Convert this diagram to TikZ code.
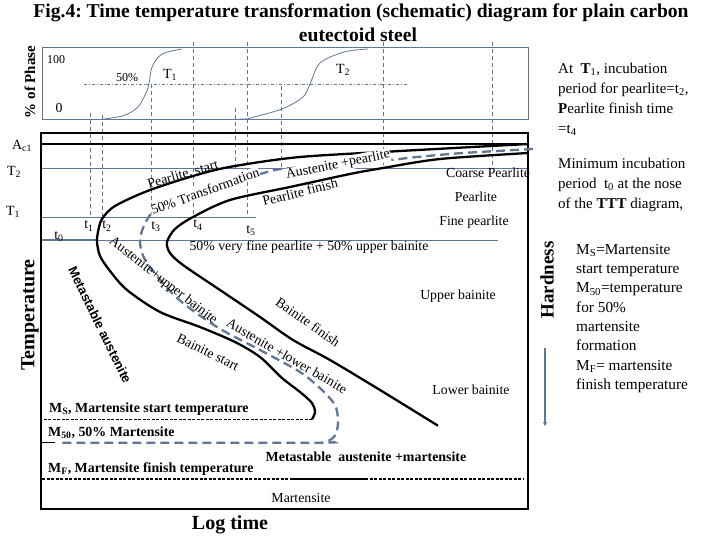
\documentclass[tikz,border=0pt]{standalone}
\usepackage{fontspec}
\setmainfont{Liberation Serif}
\newfontfamily\arialfont{Liberation Sans}
\usetikzlibrary{arrows.meta}
\frenchspacing
\definecolor{slate}{RGB}{96,118,148}
\newcommand{\lowidx}[1]{\textsubscript{#1}}
\tikzset{
  phaseline/.style={draw=slate, line width=0.9pt},
  guide/.style={draw=slate, line width=0.8pt, dash pattern=on 4pt off 3pt},
  ccurve/.style={draw=black, line width=2.3pt},
  halfcurve/.style={draw=slate, line width=2.3pt, dash pattern=on 9pt off 5pt},
  lbl/.style={font=\fontsize{13.8}{16}\selectfont, inner sep=0.5pt},
  axlbl/.style={font=\bfseries\fontsize{20}{24}\selectfont, inner sep=0pt},
  mlbl/.style={font=\bfseries\fontsize{13.9}{16}\selectfont, inner sep=0pt, anchor=west},
  note/.style={font=\fontsize{15}{20}\selectfont, align=left, anchor=north west, inner sep=0pt},
}
\begin{document}
\begin{tikzpicture}[x=1pt, y=-1pt]
  \useasboundingbox (0,0) rectangle (720,540);
  \node[font=\bfseries\fontsize{19.6}{23}\selectfont] (title1) at (361,13)
    {Fig.4: Time temperature transformation (schematic) diagram for plain carbon};
  \node[font=\bfseries\fontsize{19.6}{23}\selectfont] (title2) at (358,35) {eutectoid steel};

  \draw[phaseline] (42,47) rectangle (528,119.3);
  \node[axlbl, font=\bfseries\fontsize{15}{18}\selectfont, rotate=90] (phase) at (30,82) {\% of Phase};
  \node[lbl, font=\fontsize{12}{14}\selectfont] (p100) at (56,60) {100};
  \node[lbl, font=\fontsize{12}{14}\selectfont] (p50) at (127,78) {50\%};
  \node[lbl] (p0) at (59,108) {0};
  \node[lbl, font=\fontsize{14}{16}\selectfont] (pT1) at (170,75) {T\lowidx{1}};
  \node[lbl, font=\fontsize{14}{16}\selectfont] (pT2) at (343,70) {T\lowidx{2}};
  \draw[slate, line width=0.8pt, dash dot] (84,84) -- (408,84);
  \draw[slate, line width=0.8pt] plot[smooth] coordinates
    {(102,119.3) (124,115.5) (138,107) (146,93) (149,84) (152,67) (162,54) (182,49)};
  \draw[slate, line width=0.8pt] (234.5,119.3) -- (246.6,119) plot[smooth] coordinates
    {(246.6,119) (282,109) (303,97) (310,84) (320,63) (344,52) (368,49)};

  \draw[guide] (90.5,113) -- (90.5,217);
  \draw[guide] (102,115) -- (102,217);
  \draw[guide] (151,84) -- (151,217);
  \draw[guide] (193,42) -- (193,217);
  \draw[guide] (235,108) -- (235,168);
  \draw[guide] (247,42) -- (247,217);
  \draw[guide] (281,86) -- (281,168);
  \draw[guide] (383,42) -- (383,168);
  \draw[guide] (492,42) -- (492,168);

  \draw[phaseline] (41,168) -- (528,168);
  \draw[phaseline] (41,217) -- (256,217);
  \draw[phaseline] (98,240) -- (498,240);
  \draw[slate, line width=1.8pt] (41,240) -- (98,240);
  \draw[line width=2.3pt] (41,144) -- (528,144);
  \draw[line width=2.3pt] (41,133) rectangle (528,509);

  \node[lbl, font=\fontsize{14}{16}\selectfont] (Ac1) at (22,146) {A\lowidx{c1}};
  \node[lbl, font=\fontsize{14}{16}\selectfont] (T2) at (14,172) {T\lowidx{2}};
  \node[lbl, font=\fontsize{14}{16}\selectfont] (T1) at (13,212) {T\lowidx{1}};
  \node[lbl, font=\fontsize{14}{16}\selectfont] (t0) at (59,237) {t\lowidx{0}};
  \node[lbl, font=\fontsize{14}{16}\selectfont] (t1) at (89,226) {t\lowidx{1}};
  \node[lbl, font=\fontsize{14}{16}\selectfont] (t2) at (107,226) {t\lowidx{2}};
  \node[lbl, font=\fontsize{14}{16}\selectfont] (t3) at (156,227) {t\lowidx{3}};
  \node[lbl, font=\fontsize{14}{16}\selectfont] (t4) at (198,225) {t\lowidx{4}};
  \node[lbl, font=\fontsize{14}{16}\selectfont] (t5) at (251,231) {t\lowidx{5}};

  \draw[ccurve] plot[smooth] coordinates
    {(528,144) (400,151) (300,157) (235,166) (200,174) (150,190) (115,206) (102,219)
     (98,232) (97,242) (100,256) (110,271) (127,290) (160,312) (200,327) (235,342)
     (260,357) (282,378) (300,392) (312,403) (315,412) (312,419.3)};
  \draw[line width=1.5pt, dash pattern=on 3pt off 1.5pt] (312,419.3) -- (42,419.3);
  \draw[ccurve] plot[smooth] coordinates
    {(528,153) (440,159) (383,168) (350,174) (290,187) (230,200) (193,217) (175,229)
     (167,242) (170,253) (183,265) (220,290) (260,317) (293,340) (330,360) (380,390)
     (438,425.7)};
  \draw[halfcurve] plot[smooth] coordinates
    {(533,149) (463,153) (417,157) (390,160) (330,165) (281,169) (260,174) (220,185)
     (180,197) (160,206) (150,215) (143,228) (140,240) (142,253) (150,267) (177,298)
     (217,327) (260,350) (300,372) (322,390) (335,405) (338,420) (336,434) (328,441)
     (315,442.7) (60,442.7)};
  \draw[line width=1.5pt] (42,442.7) -- (55,442.7);
  \draw[line width=1.5pt, dash pattern=on 3pt off 1.5pt] (42,479) -- (290,479);
  \draw[line width=1.5pt] (290,479) -- (365,479);
  \draw[line width=1.5pt, dash pattern=on 3pt off 1.5pt] (365,479) -- (523,479);

  \node[lbl, rotate=16] (pstart) at (183,175) {Pearlite, start};
  \node[lbl, rotate=20, fill=white] (ptrans) at (205,191) {50\% Transformation};
  \node[lbl, rotate=11.5, fill=white] (apearl) at (338,165) {Austenite +pearlite};
  \node[lbl, rotate=14] (pfinish) at (300,192) {Pearlite finish};
  \node[lbl] (coarse) at (488,173) {Coarse Pearlite};
  \node[lbl] (pearl) at (476,197) {Pearlite};
  \node[lbl] (fine) at (474,222) {Fine pearlite};
  \node[lbl] (mixed) at (309,247) {50\% very fine pearlite + 50\% upper bainite};
  \node[lbl, rotate=-38] (aupper) at (163,281) {Austenite+upper bainite};
  \node[lbl, rotate=-26] (bstart) at (208,352) {Bainite start};
  \node[lbl, rotate=-35] (bfinish) at (308,322) {Bainite finish};
  \node[lbl, rotate=-30] (alower) at (287,356) {Austenite +lower bainite};
  \node[lbl] (upper) at (458,296) {Upper bainite};
  \node[lbl] (lower) at (471,390) {Lower bainite};
  \node[font=\arialfont\bfseries\fontsize{13}{15}\selectfont, rotate=-64, inner sep=0pt]
    (metaaus) at (100,325) {Metastable austenite};

  \node[mlbl] (ms) at (49,409) {M\lowidx{S}, Martensite start temperature};
  \node[mlbl] (m50) at (48,433) {M\lowidx{50}, 50\% Martensite};
  \node[mlbl] (mf) at (48,469) {M\lowidx{F}, Martensite finish temperature};
  \node[mlbl, anchor=center] (metamart) at (366,457) {Metastable\ \ austenite +martensite};
  \node[lbl] (mart) at (301,498) {Martensite};

  \node[axlbl] (logtime) at (230,525) {Log time};
  \node[axlbl, rotate=90] (temp) at (30,315) {Temperature};
  \node[axlbl, font=\bfseries\fontsize{19}{22}\selectfont, rotate=90] (hard) at (547,280) {Hardness};
  \draw[slate, line width=1.2pt, -{Latex[length=5pt, width=4pt]}] (545,348) -- (545,427);

  \node[note] (notea) at (558,63)
    {At\ \ \textbf{T}\lowidx{1}, incubation\\ period for pearlite=t\lowidx{2},\\
     \textbf{P}earlite finish time\\ =t\lowidx{4}};
  \node[note] (noteb) at (558,158)
    {Minimum incubation\\ period\ \ t\lowidx{0} at the nose\\ of the \textbf{TTT} diagram,};
  \node[note, font=\fontsize{15.3}{19.3}\selectfont] (notec) at (576,244)
    {M\lowidx{S}=Martensite\\ start temperature\\ M\lowidx{50}=temperature\\ for 50\%\\
     martensite\\ formation\\ M\lowidx{F}= martensite\\ finish temperature};
\end{tikzpicture}
\end{document}
